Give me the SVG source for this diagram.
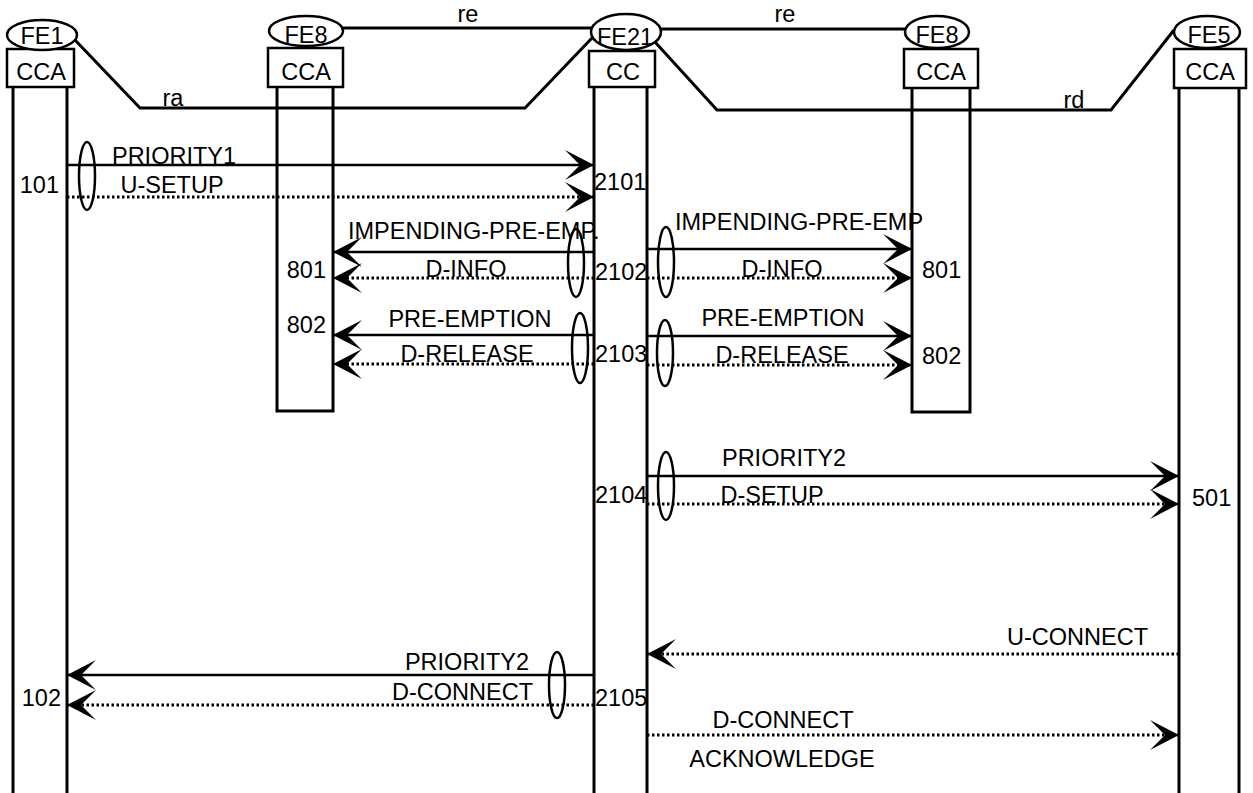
<svg xmlns="http://www.w3.org/2000/svg" width="1253" height="793" viewBox="0 0 1253 793">
<style>
text{font-family:"Liberation Sans",Arial,sans-serif;font-size:23.5px;fill:#000}
.c{text-anchor:middle}
.e{text-anchor:end}
.ln{stroke:#000;stroke-width:3;fill:none}
.msg{stroke:#000;stroke-width:2.5;fill:none;marker-end:url(#ah)}
.dot{stroke:#000;stroke-width:3;fill:none;stroke-dasharray:2.5 2.5;marker-end:url(#ah)}
.ov{stroke:#000;stroke-width:2.5;fill:none}
.box{stroke:#000;stroke-width:2.5;fill:#fff}
</style>
<defs>
<marker id="ah" markerUnits="userSpaceOnUse" viewBox="-31 -17 33 34" markerWidth="33" markerHeight="34" refX="0" refY="0" orient="auto">
<path d="M0,0 L-29,-15 L-14,0 L-29,15 Z" fill="#000"/>
</marker>
</defs>
<rect width="1253" height="793" fill="#fff"/>
<g id="relations" class="ln">
<polyline points="75,40 140,108 525,108 592,38"/>
<line x1="343" y1="28" x2="591" y2="28"/>
<line x1="661" y1="29" x2="905" y2="29"/>
<polyline points="655,42 717,110 1111,110 1174,30"/>
</g>
<text class="c" x="173" y="106">ra</text>
<text class="c" x="468" y="22">re</text>
<text class="c" x="785" y="22">re</text>
<text class="c" x="1074" y="108">rd</text>
<g id="fe1">
<line class="ln" x1="13" y1="87" x2="13" y2="793"/>
<line class="ln" x1="67" y1="87" x2="67" y2="793"/>
<rect class="box" x="7" y="49" width="67" height="38"/>
<text class="c" x="41" y="80">CCA</text>
<ellipse class="box" cx="42" cy="35" rx="35" ry="15"/>
<text class="c" x="42" y="44">FE1</text>
</g>
<g id="fe8a">
<polyline class="ln" points="277,87 277,411 333,411 333,87"/>
<rect class="box" x="268" y="48" width="75" height="39"/>
<text class="c" x="306" y="80">CCA</text>
<ellipse class="box" cx="306" cy="31" rx="37" ry="15"/>
<text class="c" x="306" y="43">FE8</text>
</g>
<g id="fe21">
<line class="ln" x1="594" y1="87" x2="594" y2="793"/>
<line class="ln" x1="647" y1="87" x2="647" y2="793"/>
<rect class="box" x="589" y="51" width="66" height="36"/>
<text class="c" x="623" y="80">CC</text>
<ellipse class="box" cx="626" cy="32" rx="35" ry="18"/>
<text class="c" x="625" y="45">FE21</text>
</g>
<g id="fe8b">
<polyline class="ln" points="912,88 912,412 970,412 970,88"/>
<rect class="box" x="904" y="49" width="74" height="39"/>
<text class="c" x="941" y="80">CCA</text>
<ellipse class="box" cx="937" cy="32" rx="32" ry="16"/>
<text class="c" x="937" y="43">FE8</text>
</g>
<g id="fe5">
<line class="ln" x1="1179" y1="88" x2="1179" y2="793"/>
<line class="ln" x1="1239" y1="88" x2="1239" y2="793"/>
<rect class="box" x="1174" y="49" width="72" height="39"/>
<text class="c" x="1210" y="80">CCA</text>
<ellipse class="box" cx="1207" cy="32" rx="33" ry="16"/>
<text class="c" x="1209" y="43">FE5</text>
</g>
<g id="connectors">
<line class="msg" x1="67" y1="165" x2="594" y2="165"/>
<line class="dot" x1="67" y1="197" x2="594" y2="197"/>
<line class="msg" x1="594" y1="252" x2="333" y2="252"/>
<line class="dot" x1="594" y1="278" x2="333" y2="278"/>
<line class="msg" x1="594" y1="335" x2="333" y2="335"/>
<line class="dot" x1="594" y1="364" x2="333" y2="364"/>
<line class="msg" x1="647" y1="249" x2="912" y2="249"/>
<line class="dot" x1="647" y1="278" x2="912" y2="278"/>
<line class="msg" x1="647" y1="336" x2="912" y2="336"/>
<line class="dot" x1="647" y1="365" x2="912" y2="365"/>
<line class="msg" x1="647" y1="476" x2="1179" y2="476"/>
<line class="dot" x1="647" y1="504" x2="1179" y2="504"/>
<line class="dot" x1="1179" y1="654" x2="647" y2="654"/>
<line class="msg" x1="594" y1="675" x2="67" y2="675"/>
<line class="dot" x1="594" y1="705" x2="67" y2="705"/>
<line class="dot" x1="647" y1="735" x2="1179" y2="735"/>
</g>
<g id="groupings" class="ov">
<ellipse cx="87" cy="176" rx="8" ry="34"/>
<ellipse cx="576" cy="263" rx="8" ry="34"/>
<ellipse cx="580" cy="348" rx="8" ry="35"/>
<ellipse cx="666" cy="262" rx="8" ry="35"/>
<ellipse cx="665" cy="353" rx="8" ry="33"/>
<ellipse cx="666" cy="486" rx="8" ry="34"/>
<ellipse cx="557" cy="685" rx="8" ry="33"/>
</g>
<g id="labels">
<text class="c" x="174" y="164">PRIORITY1</text>
<text class="c" x="172" y="193">U-SETUP</text>
<text class="e" x="59" y="193">101</text>
<text x="594" y="190">2101</text>
<text x="348" y="239">IMPENDING-PRE-EMP.</text>
<text class="c" x="466" y="277">D-INFO</text>
<text class="e" x="326" y="278">801</text>
<text x="595" y="280">2102</text>
<text class="c" x="470" y="327">PRE-EMPTION</text>
<text class="c" x="467" y="362">D-RELEASE</text>
<text class="e" x="326" y="333">802</text>
<text x="595" y="362">2103</text>
<text x="675" y="230">IMPENDING-PRE-EMP</text>
<text class="c" x="782" y="277">D-INFO</text>
<text x="922" y="278">801</text>
<text class="c" x="783" y="326">PRE-EMPTION</text>
<text class="c" x="782" y="363">D-RELEASE</text>
<text x="922" y="364">802</text>
<text class="c" x="784" y="466">PRIORITY2</text>
<text class="c" x="772" y="503">D-SETUP</text>
<text x="595" y="503">2104</text>
<text x="1192" y="506">501</text>
<text class="e" x="1148" y="645">U-CONNECT</text>
<text class="e" x="529" y="670">PRIORITY2</text>
<text class="e" x="533" y="700">D-CONNECT</text>
<text class="e" x="61" y="706">102</text>
<text x="595" y="706">2105</text>
<text class="c" x="783" y="728">D-CONNECT</text>
<text class="c" x="782" y="767">ACKNOWLEDGE</text>
</g>
</svg>
